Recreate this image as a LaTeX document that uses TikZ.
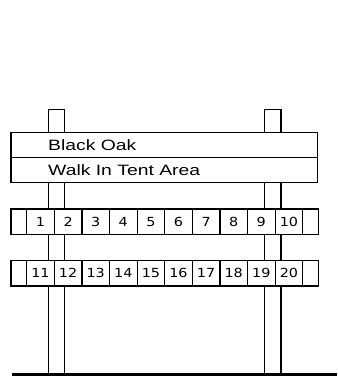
\documentclass[tikz,border=0pt]{standalone}
\usepackage{fontspec}
\newfontfamily\signfont[FakeStretch=1.29]{Liberation Sans}
\newfontfamily\numfont[FakeStretch=1.15]{DejaVu Sans}
\usetikzlibrary{positioning}
\tikzset{
  postbar/.style={draw, fill=white, line width=1.2pt},
  signtext/.style={anchor=base west, inner sep=0pt, font=\signfont\fontsize{15}{15}\selectfont},
  sitecell/.style={draw, fill=white, line width=1.2pt, minimum width=27.6pt, minimum height=25.4pt, inner sep=0pt, font=\numfont\fontsize{12.5}{12.5}\selectfont},
  endcell/.style={draw, fill=white, line width=1.2pt, minimum width=15.7pt, minimum height=25.4pt, inner sep=0pt},
}

\begin{document}
\begin{tikzpicture}[x=1pt, y=-1pt]
  \useasboundingbox (0,0) rectangle (337,377);

  % Posts
  \draw[postbar] (48.5,109.3) rectangle (64.3,374);
  \draw[postbar] (264.4,109.3) rectangle (281,374);

  % Name board
  \draw[postbar] (11,132.3) rectangle (317.8,182.3);
  \draw[line width=1.2pt] (11,157.6) -- (317.8,157.6);
  \node[signtext] (title) at (48,150.3) {Black Oak};
  \node[signtext] (subtitle) at (48,175.3) {Walk In Tent Area};

  % Site numbers, two rows
  \node[endcell] (endL1) at (18.85,221.7) {};
  \node[endcell] (endR1) at (310.5,221.7) {};
  \node[endcell] (endL2) at (18.85,273.3) {};
  \node[endcell] (endR2) at (310.5,273.3) {};
  \foreach \i in {1,...,10}{
    \pgfmathtruncatemacro\j{\i+10}
    \node[sitecell] (site\i) at ({12.9+27.6*\i},221.7) {\i};
    \node[sitecell] (site\j) at ({12.9+27.6*\i},273.3) {\j};
  }

  % Ground
  \draw[line width=3pt] (11.7,374.5) -- (337,374.5);
\end{tikzpicture}
\end{document}
